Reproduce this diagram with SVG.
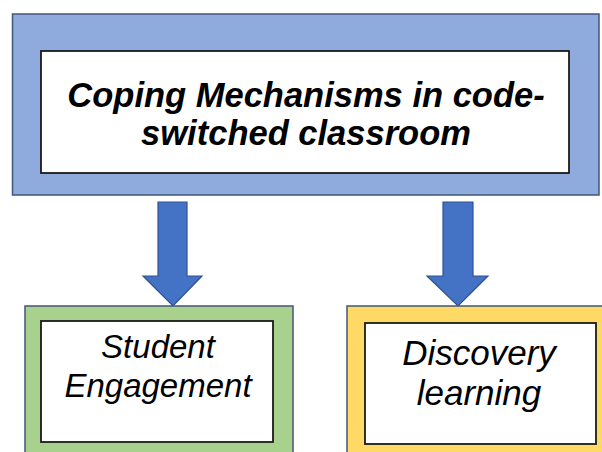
<svg xmlns="http://www.w3.org/2000/svg" width="602" height="452" viewBox="0 0 602 452">
<style>
.outer{stroke:#42577a;stroke-width:1.5}
.inner{fill:#ffffff;stroke:#1a1a1a;stroke-width:1.8}
.arrow{fill:#4472c4;stroke:#2f528f;stroke-width:1.2}
.t{font-family:"Liberation Sans",Arial,sans-serif;font-style:italic;fill:#000;text-anchor:middle}
.tb{font-weight:bold;font-size:34.5px}
.tn{font-size:33px}
.td{font-size:35px}
</style>
<rect width="602" height="452" fill="#ffffff"/>
<g id="connectors">
<path class="arrow" d="M158,202 H187 V276 H202 L173,306 L143,276 H158 Z"/>
<path class="arrow" d="M443,202 H473 V276 H488 L458,306 L427,276 H443 Z"/>
</g>
<g id="node-coping">
<rect class="outer" x="12.5" y="14" width="586.5" height="181" fill="#8faadc"/>
<rect class="inner" x="41" y="51" width="528" height="122"/>
<text class="t tb" x="306" y="107">Coping Mechanisms in code-</text>
<text class="t tb" x="306" y="145">switched classroom</text>
</g>
<g id="node-engagement">
<rect class="outer" x="25" y="306" width="268" height="160" fill="#a9d18e"/>
<rect class="inner" x="41" y="321" width="232" height="121"/>
<text class="t tn" x="158" y="358">Student</text>
<text class="t tn" x="158" y="397">Engagement</text>
</g>
<g id="node-discovery">
<rect class="outer" x="347" y="306" width="270" height="160" fill="#ffd966"/>
<rect class="inner" x="365" y="323" width="231" height="121"/>
<text class="t td" x="479" y="365">Discovery</text>
<text class="t td" x="479" y="405">learning</text>
</g>
</svg>
